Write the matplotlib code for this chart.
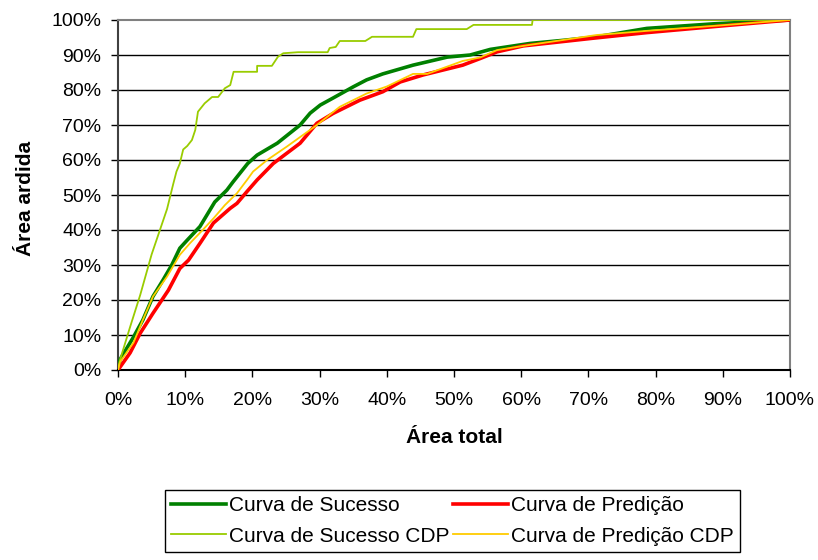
import matplotlib
matplotlib.use("Agg")
import matplotlib.pyplot as plt
from matplotlib.ticker import MultipleLocator, FuncFormatter

plt.rcParams['font.family'] = ['Liberation Sans', 'DejaVu Sans']

# Data (percent of total area vs percent of burnt area)
sucesso_x = [0, 0.3, 2.3, 3.7, 5.2, 6.7, 8.0, 9.2, 10.3, 12.2, 14.4, 16.2, 17.1, 19.3, 20.7,
             23.7, 27.1, 28.6, 30.1, 32.0, 35.0, 37.0, 39.4, 43.9, 49.0, 52.4, 55.4, 61.3,
             66.3, 71.2, 78.7, 88.6, 100]
sucesso_y = [0, 3.0, 9.4, 14.3, 21.0, 25.7, 30.0, 34.8, 37.1, 41.0, 48.0, 51.4, 53.7, 59.0, 61.4,
             64.8, 70.0, 73.4, 75.7, 77.7, 80.9, 82.9, 84.6, 87.1, 89.4, 90.0, 91.6, 93.3,
             94.2, 95.2, 97.6, 98.9, 100]

predicao_x = [0, 1.8, 3.3, 5.2, 7.5, 9.2, 10.5, 12.2, 14.2, 16.7, 17.7, 19.2, 20.7, 23.1, 27.1,
              29.6, 32.0, 36.0, 39.4, 42.0, 45.4, 51.3, 53.9, 56.4, 60.3, 70.7, 78.7, 88.6, 100]
predicao_y = [0, 4.9, 10.5, 16.2, 22.8, 29.0, 31.4, 36.2, 42.0, 46.2, 47.6, 51.0, 54.3, 59.0, 64.8,
              70.5, 73.3, 77.1, 79.5, 82.3, 84.3, 87.1, 89.0, 90.9, 92.6, 94.8, 96.4, 98.1, 100]

sucesso_cdp_x = [0, 0.3, 1.8, 3.3, 5.0, 7.3, 8.2, 8.7, 9.2, 9.7, 10.3, 11.0, 11.5, 11.9, 12.9,
                 14.0, 14.9, 15.9, 16.7, 17.2, 20.7, 20.7, 22.9, 23.8, 24.6, 26.8, 31.2, 31.5,
                 32.4, 33.0, 36.8, 37.8, 43.9, 44.4, 51.9, 52.9, 61.6, 61.7, 100]
sucesso_cdp_y = [0, 2.9, 12.3, 21.4, 33.0, 46.0, 53.0, 56.7, 59.0, 63.0, 64.0, 65.7, 68.6, 73.8, 76.2,
                 78.0, 78.0, 80.5, 81.4, 85.2, 85.2, 86.9, 86.9, 89.5, 90.5, 90.8, 90.8, 92.0,
                 92.3, 94.0, 94.0, 95.2, 95.2, 97.4, 97.4, 98.6, 98.6, 100, 100]

predicao_cdp_x = [0, 0.3, 2.3, 3.7, 5.2, 7.3, 9.2, 10.7, 12.6, 14.2, 15.9, 17.7, 19.2, 20.1, 22.2,
                  25.1, 29.6, 33.0, 37.0, 40.0, 43.9, 46.0, 51.3, 53.9, 56.4, 61.3, 71.2, 78.7, 88.6, 100]
predicao_cdp_y = [0, 2.3, 7.8, 14.3, 21.0, 26.7, 32.9, 36.2, 40.0, 43.3, 47.1, 50.5, 54.3, 56.7, 60.0,
                  63.8, 70.0, 75.2, 79.0, 81.0, 84.6, 84.6, 88.3, 89.3, 91.4, 92.9, 95.7, 96.9, 98.3, 100]

labels = ["Curva de Sucesso", "Curva de Predição", "Curva de Sucesso CDP", "Curva de Predição CDP"]

fig = plt.figure(figsize=(8.18, 5.60), dpi=100)
ax = fig.add_axes([118/818, 190/560, 672/818, 350/560])

for v in range(10, 100, 10):
    ax.axhline(v, color='black', lw=1.0, zorder=1)

l1, = ax.plot(sucesso_x, sucesso_y, color='#008000', lw=2.6, zorder=3)
l2, = ax.plot(predicao_x, predicao_y, color='#FF0000', lw=2.6, zorder=3)
l3, = ax.plot(sucesso_cdp_x, sucesso_cdp_y, color='#99CC00', lw=1.3, zorder=4)
l4, = ax.plot(predicao_cdp_x, predicao_cdp_y, color='#FFCC00', lw=1.3, zorder=4)

ax.set_xlim(0, 100)
ax.set_ylim(0, 100)
ax.xaxis.set_major_locator(MultipleLocator(10))
ax.yaxis.set_major_locator(MultipleLocator(10))
fmt = FuncFormatter(lambda v, p: f"{int(round(v))}%")
ax.xaxis.set_major_formatter(fmt)
ax.yaxis.set_major_formatter(fmt)
ax.tick_params(axis='both', direction='out', length=5, width=1, color='black', labelsize=14)
ax.tick_params(axis='x', pad=11)
ax.tick_params(axis='y', pad=7)

ax.spines['top'].set_color('#808080')
ax.spines['right'].set_color('#808080')
ax.spines['left'].set_color('#404040')
ax.spines['bottom'].set_color('black')
for s in ax.spines.values():
    s.set_linewidth(1.5)

ax.set_xlabel("Área total", fontsize=15, fontweight='bold', va='center')
ax.xaxis.set_label_coords(0.5, -0.194)
ax.set_ylabel("Área ardida", fontsize=15, fontweight='bold', va='center')
ax.yaxis.set_label_coords(-0.138, 0.49)

leg = fig.legend([l1, l3, l2, l4], [labels[0], labels[2], labels[1], labels[3]],
                 ncol=2, loc='center', bbox_to_anchor=(0.553, 0.0696),
                 fontsize=15, frameon=True, fancybox=False, edgecolor='black',
                 framealpha=1, handlelength=2.65, handletextpad=0.15,
                 columnspacing=0.15, borderpad=0.3, labelspacing=0.55)
leg.get_frame().set_linewidth(1.0)

fig.savefig("out.png", dpi=100)
